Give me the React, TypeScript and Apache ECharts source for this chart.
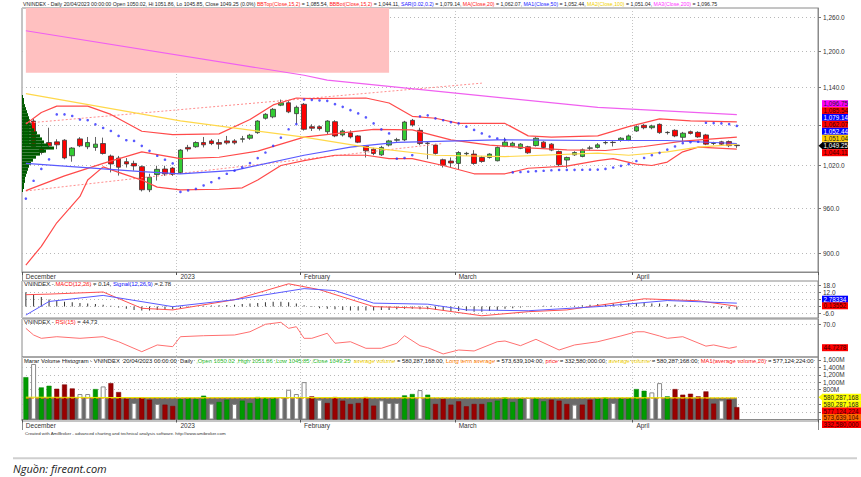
import React, { useEffect, useRef } from "react";
import * as echarts from "echarts";

const FONT = "'Liberation Sans', Arial, Helvetica, sans-serif";

// ---------- dates ----------
const decDays = ["05","06","07","08","09","12","13","14","15","16","19","20","21","22","23","26","27","28","29","30"];
const janDays = ["03","04","05","06","09","10","11","12","13","16","17","18","19","27","30","31"];
const febDays = ["01","02","03","06","07","08","09","10","13","14","15","16","17","20","21","22","23","24","27","28"];
const marDays = ["01","02","03","06","07","08","09","10","13","14","15","16","17","20","21","22","23","24","27","28","29","30","31"];
const aprDays = ["03","04","05","06","07","10","11","12","13","14","17","18","19","20"];
const futureSlots = ["f1","f2","f3","f4","f5","f6","f7","f8","f9","f10"];
const monthTickLabels: Record<string, string> = {
  "2022-12-05": "December", "2023-01-03": "2023", "2023-02-01": "February", "2023-03-01": "March", "2023-04-03": "April",
};

// ---------- price (open, close, low, high) ----------
const ohlc: number[][] = [
  [1050, 1089, 1048, 1092], [1086.7, 1047.6, 1045, 1090], [1045.1, 1039.0, 1036, 1056.4], [1053.9, 1049.0, 1046, 1076.4],
  [1054.9, 1050.5, 1044, 1058.9], [1057.4, 1031.0, 1029, 1059], [1034.2, 1045.7, 1025.5, 1047], [1059.4, 1049.0, 1047, 1062],
  [1047.6, 1053.9, 1044, 1062.3], [1046.6, 1051.5, 1041.5, 1062.3], [1052.4, 1037.6, 1036, 1061.3], [1033.8, 1022.2, 1010, 1036],
  [1030.8, 1017.5, 1005.4, 1034], [1025.5, 1022.2, 1017, 1030.8], [1023.0, 1019.3, 1012.5, 1027], [1018.3, 985.3, 983, 1020],
  [985.3, 1003, 982, 1008], [1007.0, 1014.4, 998.3, 1019.6], [1014.9, 1007.8, 1005, 1019.6], [1016.3, 1007.1, 1005, 1018],
  [1009.6, 1042.6, 1008, 1044], [1046.6, 1044.2, 1040.5, 1050.4], [1047.6, 1053.9, 1046, 1055.8], [1053.9, 1050.5, 1046.6, 1062.3],
  [1056.4, 1052.4, 1050, 1059], [1053.9, 1051.5, 1044, 1059], [1056.4, 1053.4, 1051, 1063.9], [1056.4, 1053.4, 1051, 1059],
  [1058.9, 1059.5, 1054, 1063.9], [1060.4, 1065.0, 1058, 1067], [1068.9, 1086.7, 1067, 1088], [1091.0, 1097.2, 1089, 1099],
  [1093.2, 1105.0, 1091, 1107], [1111.6, 1115.4, 1110, 1120.5], [1115.4, 1101.0, 1099, 1118], [1098.2, 1108.2, 1082.6, 1111],
  [1113.0, 1074.0, 1072, 1115], [1078.0, 1075.6, 1071.4, 1081.7], [1078.0, 1075.0, 1072, 1080], [1070.3, 1086.7, 1066.4, 1088],
  [1085.7, 1063.9, 1062, 1088], [1065.4, 1071.4, 1063, 1074], [1068.4, 1062.4, 1060, 1072.4], [1063.9, 1054.4, 1053, 1065],
  [1048.9, 1041.5, 1031.7, 1050], [1044.0, 1037.6, 1035, 1046], [1035.6, 1046.6, 1034, 1049], [1050.1, 1056.4, 1048, 1058],
  [1057.4, 1058.2, 1055, 1061], [1057.9, 1085.2, 1056, 1087], [1087.8, 1080.6, 1078, 1090], [1072.4, 1052.4, 1050, 1076.4],
  [1053.0, 1052.6, 1029.3, 1055], [1050.1, 1037.7, 1036, 1052], [1028.4, 1020.3, 1017, 1030], [1026.5, 1023.6, 1016.4, 1031.7],
  [1023.0, 1039.0, 1013.5, 1041], [1037.2, 1037.8, 1034, 1040], [1036.7, 1023.0, 1021, 1042.5], [1031.7, 1025.9, 1024, 1034],
  [1031.7, 1036.7, 1030, 1038], [1026.9, 1046.6, 1026, 1048], [1048.3, 1054.4, 1047, 1061.3], [1048.9, 1052.9, 1047, 1055],
  [1045.2, 1051.5, 1044, 1053], [1047.6, 1038.6, 1037, 1049], [1049.4, 1060.4, 1048, 1062], [1054.5, 1046.6, 1045, 1056],
  [1051.5, 1042.6, 1041, 1053], [1040.5, 1021.1, 1019, 1042], [1027.9, 1031.7, 1016.4, 1033], [1035.6, 1039.0, 1034, 1041],
  [1033.2, 1043.0, 1032, 1045], [1045.4, 1045.9, 1042, 1049], [1046.6, 1050.4, 1045, 1053], [1053.6, 1054.0, 1051, 1056],
  [1054.2, 1053.9, 1048, 1056], [1057.4, 1060.4, 1055, 1062], [1057.4, 1063.9, 1056, 1066], [1071.4, 1078.0, 1070, 1080],
  [1080.1, 1076.4, 1074, 1082], [1076.4, 1079.1, 1074, 1081], [1081.6, 1068.9, 1067, 1083], [1068.9, 1069.3, 1066, 1071],
  [1072.4, 1063.9, 1062, 1074], [1061.8, 1068.0, 1055.4, 1070], [1070.3, 1067.7, 1066, 1072], [1069.3, 1062.4, 1061, 1071],
  [1065.4, 1051.5, 1050, 1067], [1052.6, 1053.0, 1050, 1055], [1054.9, 1051.5, 1050, 1056.5], [1055.3, 1049.25, 1047, 1057],
  [1050.02, 1049.25, 1045.85, 1051.86],
];

// ---------- overlays [bar index, value] ----------
const bbTop = [[0,1082],[2,1100],[4,1110],[8,1110],[11,1097],[15,1071],[19,1066],[25,1067],[29,1089],[32,1112],[35,1123],[37,1122],[44,1123],[47,1115],[50,1094],[53,1091],[56,1083],[62,1083],[65,1064],[68,1062],[74,1064],[78,1078],[82,1090],[86,1087],[92,1085.54]];
const bbBot = [[0,885],[2,909],[4,940],[7,976],[8,999],[10,1018],[12,1010],[15,999],[17,989],[20,985],[25,986],[28,988],[30,999],[33,1020],[36,1027],[40,1035],[44,1035],[47,1030],[50,1030],[54,1020],[58,1008],[62,1008],[65,1016],[70,1019],[74,1027],[76,1030],[79,1022],[81,1020],[83,1025],[85,1040],[87,1047],[92,1044.11]];
const ma20 = [[0,984],[5,1005],[10,1023],[15,1040],[20,1030],[25,1032],[30,1041],[36,1062],[45,1074],[50,1073],[55,1058],[60,1050],[65,1046],[70,1043],[75,1042],[80,1048],[85,1056],[92,1062.07]];
const ma50 = [[0,1023],[15,1011],[20,1008],[27,1013],[36,1035],[42,1047],[48,1054],[61,1058],[74,1057],[83,1057],[92,1052.44]];
const ma100 = [[0,1130],[20,1087],[36,1062],[44,1047],[53,1035],[62,1033],[74,1038],[78,1035],[83,1040],[87,1047],[92,1051.04]];
const ma200 = [[0,1236],[36,1160],[39,1152],[74,1108],[92,1096.75]];
const sar = [[0,973],[1,998],[2,1015],[3,1029],[4,1097],[5,1097],[6,1094.6],[7,1089],[8,1088],[9,1081.6],[10,1076],[11,1071.4],[12,1063.9],[13,1057.4],[14,1056.4],[15,1048.9],[16,1041.5],[17,1034.2],[18,1028.4],[19,1023],[20,982.3],[21,984.3],[22,986.6],[23,991.3],[24,995.9],[25,1001.7],[26,1008],[27,1012.5],[28,1017.2],[29,1023.5],[30,1030.8],[31,1039],[32,1048.9],[33,1061.3],[34,1074],[35,1082],[36,1120.5],[37,1120],[38,1119],[39,1118.4],[40,1113.2],[41,1108.9],[42,1103.7],[43,1098.6],[44,1092.3],[45,1083],[46,1073.8],[47,1067.7],[48,1030],[49,1031],[50,1035],[51,1094],[52,1095.6],[53,1090.8],[54,1088],[55,1085],[56,1083],[57,1078],[58,1073],[59,1067.7],[60,1063],[61,1060],[62,1058],[63,1010],[64,1010.5],[65,1011],[66,1011.7],[67,1012.3],[68,1013],[69,1013.5],[70,1013.6],[71,1013.7],[72,1013.8],[73,1013.9],[74,1014],[75,1015],[76,1017],[77,1019.5],[78,1021.8],[79,1026.5],[80,1031],[81,1035],[82,1038.5],[83,1043.3],[84,1048],[85,1053],[86,1054.4],[87,1055],[88,1084],[89,1083.5],[90,1083],[91,1082],[92,1079.14]];
const trendUpper = [[0,1083.4],[59,1147]];
const trendLower = [[0,983.6],[54,1052.5]];
const highlightZone = [[0,1164],[47,1276.7]];
const priceTicks = [900, 960, 1020, 1080, 1140, 1200, 1260];
const priceLabelTicks = [900, 960, 1020, 1140, 1200, 1260];

// volume-at-price profile (relative amounts, top bin first)
const profileBins = [1,2,2,3,4,5,6,7,8,9,10,12,15,18,20,22,26,32,24,18,14,11,9,7,6,5,4,3,3,2,2,1];

// ---------- MACD ----------
const macdLine = [[0,10],[3,10.5],[10,12.3],[15,-1.6],[19,-3],[27,5.7],[34,19.3],[38,14.3],[45,-0.2],[52,-1.6],[59,-8],[65,-4.5],[70,-3],[80,6.5],[87,4.8],[92,0.14]];
const signalLine = [[0,-7.4],[3,4.2],[10,9.4],[19,-0.2],[27,5.7],[36,15.2],[40,13.5],[45,2.8],[52,1.9],[57,-3],[65,-3.7],[74,-0.2],[83,5],[92,2.78]];
const macdHist = [12,10,8,6,5,4,3.5,3,2.5,2,1.5,0.5,-1,-2,-3,-3.5,-3.5,-3,-3,-2.5,-1.5,-0.5,0,0.5,0.8,1,1.2,1.5,2,2.5,3,3.5,4,4,3.5,2.5,1,-0.5,-1.5,-2,-2.5,-3,-3.5,-3.5,-3.5,-3.5,-3,-3,-2.5,-2,-2,-2.5,-2.5,-3,-3.5,-4,-4,-4,-4.5,-4.5,-4,-3,-2,-1.5,-1,-0.5,0,0.5,0.5,0,0,0.5,1,1.5,2,2,2.5,2.5,3,3,3,2.5,2.5,2,1.5,1,0.5,0,-0.5,-1,-1.5,-2,-2.6];
const macdTicks = [18, 12, 6, 0, -6];

// ---------- RSI ----------
const rsi = [[0,65.2],[1,57.8],[2,54.1],[4,55.9],[7,54.1],[10,55.9],[12,50.3],[15,39.2],[17,46.7],[19,44.8],[20,55.9],[23,57],[27,57.8],[29,61.4],[31,69.7],[33,71.9],[34,65.2],[35,67],[36,54.1],[37,54.1],[39,59.7],[40,48.6],[42,50.3],[44,43],[46,43],[48,48.6],[49,57],[51,45.9],[52,43.7],[54,36.7],[56,41.1],[58,40],[61,50.3],[62,51.1],[64,45.9],[66,53],[69,41.1],[71,46.7],[74,50.3],[77,56.7],[79,61.4],[80,61.4],[82,56.7],[83,54.1],[85,55.9],[88,45.4],[89,46.7],[91,43],[92,44.73]];

// ---------- volume (millions) ----------
const volume = [1138,1493,862,907,827,942,835,685,685,818,889,978,738,560,444,596,533,418,400,364,551,578,551,640,427,471,533,418,507,444,604,596,596,600,800,685,1005,622,533,444,604,507,418,444,604,373,515,444,444,648,685,791,667,418,551,400,489,355,418,418,462,507,596,471,560,578,578,489,533,507,418,400,400,533,560,596,444,578,578,818,773,729,978,622,818,667,693,622,755,427,515,533,332.58];
const volumeKind = [
  "g","w","g","g","r","r","r","w","w","g",
  "w","r","r","r","w","r","r","w","r","r",
  "g","g","g","g","w","g","g","w","g","g",
  "g","g","g","w","w","w","w","r","w","r",
  "r","r","r","r","r","r","w","w","w","g",
  "g","w","g","r","r","r","r","r","r","r",
  "g","g","g","g","g","w","g","g","r","r",
  "r","w","r","r","g","g","w","g","g","g",
  "g","w","w","g","r","r","r","r","r","r",
  "w","r","r",
];
const avgVolume = [[0,600],[20,585],[40,590],[60,580],[80,585],[92,580.3]];
const longTermAvg = [[0,573.6],[92,573.6]];
const volTicks = [0, 200, 400, 600, 800, 1000, 1200, 1400, 1600];
const volLabelTicks = [800, 1000, 1200, 1400, 1600];

const ln = Math.log;

function rich(parts: [string, string][]) {
  return parts.map(([k, t]) => `{${k}|${t}}`).join("");
}

function buildOption() {
  const categories = [
    ...decDays.map((d) => `2022-12-${d}`), ...janDays.map((d) => `2023-01-${d}`), ...febDays.map((d) => `2023-02-${d}`),
    ...marDays.map((d) => `2023-03-${d}`), ...aprDays.map((d) => `2023-04-${d}`), ...futureSlots,
  ];
  const isMonthStart = (_i: number, v: string) => monthTickLabels[v] !== undefined;
  const L = 22, GW = 796;
  const mainMin = ln(876.3), mainMax = ln(1276.7);
  const txt = (size: number, color = "#222") => ({ fontFamily: FONT, fontSize: size, color });

  const xAxisFor = (gi: number, labels: boolean) => ({
    type: "category", gridIndex: gi, data: categories, boundaryGap: true,
    axisLine: { show: labels, lineStyle: { color: "#8a8a8a", width: 1 } },
    axisTick: { show: labels, interval: isMonthStart, length: 3, lineStyle: { color: "#555" } },
    axisLabel: { show: labels, interval: isMonthStart, formatter: (v: string) => monthTickLabels[v] ?? "", align: "left", margin: 1, ...txt(6.5, "#333") },
    splitLine: { show: true, interval: isMonthStart, lineStyle: { color: "#c4c4c4", type: [1, 2], width: 1 } },
  });
  const yAxisBase = (gi: number) => ({
    type: "value", gridIndex: gi, position: "right",
    axisLine: { show: true, lineStyle: { color: "#8a8a8a" } },
    axisTick: { show: true, length: 3, lineStyle: { color: "#777" } },
    splitLine: { show: true, lineStyle: { color: "#b8b8b8", type: [1, 3], width: 1 } },
  });
  const lnPairs = (arr: number[][]) => arr.map(([i, v]) => [i, ln(v)]);
  const lineSeries = (name: string, data: number[][], color: string, width = 1, z = 4, extra: any = {}) => ({
    type: "line", name, xAxisIndex: 0, yAxisIndex: 0, data: lnPairs(data), symbol: "none", z,
    lineStyle: { color, width }, silent: true, ...extra,
  });

  const volStyle: Record<string, any> = {
    g: { color: "#009a00", borderColor: "#008000", borderWidth: 0.5 },
    r: { color: "#990000", borderColor: "#7a0000", borderWidth: 0.5 },
    w: { color: "#ffffff", borderColor: "#8a8a8a", borderWidth: 1 },
  };

  return {
    animation: false,
    backgroundColor: "#ffffff",
    grid: [
      { left: L, top: 8, width: GW, height: 264, show: true, borderColor: "#8a8a8a", borderWidth: 1, backgroundColor: "transparent" },
      { left: L, top: 281, width: GW, height: 37, show: true, borderColor: "#8a8a8a", borderWidth: 1 },
      { left: L, top: 319, width: GW, height: 38, show: true, borderColor: "#8a8a8a", borderWidth: 1 },
      { left: L, top: 357, width: GW, height: 64, show: true, borderColor: "#8a8a8a", borderWidth: 1 },
      { left: L, top: 95, width: 60, height: 97, show: false },
    ],
    xAxis: [
      xAxisFor(0, true), xAxisFor(1, false), xAxisFor(2, false), xAxisFor(3, true),
      { type: "value", gridIndex: 4, min: 0, max: 60, show: false },
    ],
    yAxis: [
      {
        ...yAxisBase(0), min: mainMin, max: mainMax,
        axisTick: { show: true, length: 3, customValues: priceTicks.map(ln), lineStyle: { color: "#777" } },
        axisLabel: { customValues: priceLabelTicks.map(ln), formatter: (v: number) => Math.round(Math.exp(v)).toLocaleString("en-US") + ".0", margin: 5, ...txt(6.5, "#333") },
      },
      {
        ...yAxisBase(1), min: -9.9, max: 21.7,
        axisTick: { show: true, length: 3, customValues: macdTicks, lineStyle: { color: "#777" } },
        axisLabel: { customValues: [18, 12, -6], formatter: (v: number) => v.toFixed(1), margin: 5, ...txt(6.5, "#333") },
      },
      {
        ...yAxisBase(2), min: 33.3, max: 75.6,
        axisTick: { show: true, length: 3, customValues: [70], lineStyle: { color: "#777" } },
        axisLabel: { customValues: [70], formatter: (v: number) => v.toFixed(1), margin: 5, ...txt(6.5, "#333") },
      },
      {
        ...yAxisBase(3), min: -40, max: 1680,
        axisTick: { show: true, length: 3, customValues: volTicks, lineStyle: { color: "#777" } },
        axisLabel: { customValues: volLabelTicks, formatter: (v: number) => v.toLocaleString("en-US") + "M", margin: 5, ...txt(6.5, "#333") },
      },
      { type: "category", gridIndex: 4, inverse: true, show: false, data: profileBins.map((_, k) => "b" + k) },
    ],
    series: [
      {
        type: "line", name: "zone", xAxisIndex: 0, yAxisIndex: 0, data: [], z: 0, silent: true,
        markArea: {
          silent: true, itemStyle: { color: "#ffc0c0", opacity: 1 },
          data: [[{ xAxis: highlightZone[0][0], yAxis: ln(highlightZone[0][1]) }, { xAxis: highlightZone[1][0], yAxis: ln(highlightZone[1][1]) }]],
        },
      },
      {
        type: "candlestick", name: "VNINDEX", xAxisIndex: 0, yAxisIndex: 0, z: 2, barWidth: 5,
        data: ohlc.map((r) => r.map(ln)),
        itemStyle: { color: "#33cc33", color0: "#ff0000", borderColor: "#3a3a3a", borderColor0: "#3a3a3a", borderWidth: 0.8 },
      },
      {
        type: "bar", name: "profile", xAxisIndex: 4, yAxisIndex: 4, data: profileBins, barCategoryGap: "0%", z: 3, silent: true,
        itemStyle: { color: "#005a00" },
      },
      lineSeries("BBTop", bbTop, "#ff4a4a", 1.2),
      lineSeries("MA20", ma20, "#ff4a4a", 1.2),
      lineSeries("BBBot", bbBot, "#ff4a4a", 1.2),
      lineSeries("MA50", ma50, "#5a5aff", 1.2),
      lineSeries("MA100", ma100, "#ffd84a", 1.2),
      lineSeries("MA200", ma200, "#f060f0", 1.2),
      lineSeries("trendUpper", trendUpper, "#ff8c8c", 1, 3, { lineStyle: { color: "#ff8c8c", width: 1, type: [2, 2] } }),
      lineSeries("trendLower", trendLower, "#ff8c8c", 1, 3, { lineStyle: { color: "#ff8c8c", width: 1, type: [2, 2] } }),
      {
        type: "scatter", name: "SAR", xAxisIndex: 0, yAxisIndex: 0, data: lnPairs(sar), symbolSize: 2.6, z: 5,
        itemStyle: { color: "#3030ff" }, silent: true,
      },
      // MACD pane
      {
        type: "bar", name: "hist", xAxisIndex: 1, yAxisIndex: 1, data: macdHist, barWidth: 1, z: 2,
        itemStyle: { color: "#333" }, silent: true,
      },
      { type: "line", name: "MACD", xAxisIndex: 1, yAxisIndex: 1, data: macdLine, symbol: "none", lineStyle: { color: "#ff5050", width: 1 }, z: 3 },
      { type: "line", name: "Signal", xAxisIndex: 1, yAxisIndex: 1, data: signalLine, symbol: "none", lineStyle: { color: "#5a5aff", width: 1 }, z: 3 },
      // RSI pane
      { type: "line", name: "RSI", xAxisIndex: 2, yAxisIndex: 2, data: rsi, symbol: "none", lineStyle: { color: "#ff7070", width: 1 }, z: 3 },
      // Volume pane
      {
        type: "line", name: "avgArea", xAxisIndex: 3, yAxisIndex: 3, data: avgVolume, symbol: "none", z: 1,
        lineStyle: { width: 0 }, areaStyle: { color: "#6a6a6a", opacity: 1 }, silent: true,
      },
      {
        type: "bar", name: "Volume", xAxisIndex: 3, yAxisIndex: 3, z: 2, barWidth: 5,
        data: volume.map((v, i) => ({ value: v, itemStyle: volStyle[volumeKind[i]] })),
      },
      { type: "line", name: "LTavg", xAxisIndex: 3, yAxisIndex: 3, data: longTermAvg, symbol: "none", z: 3, lineStyle: { color: "#ff8a00", width: 1, type: [3, 2] } },
      { type: "line", name: "avgVol", xAxisIndex: 3, yAxisIndex: 3, data: avgVolume, symbol: "none", z: 3, lineStyle: { color: "#e8e800", width: 1 } },
    ],
    graphic: buildGraphics(),
  };
}

function buildGraphics() {
  const richStyles = (size: number) => ({
    k: { fill: "#1e1e1e", fontSize: size, fontFamily: FONT },
    r: { fill: "#ff2020", fontSize: size, fontFamily: FONT },
    b: { fill: "#2020ff", fontSize: size, fontFamily: FONT },
    y: { fill: "#f0d000", fontSize: size, fontFamily: FONT },
    m: { fill: "#ff30ff", fontSize: size, fontFamily: FONT },
    g: { fill: "#30c030", fontSize: size, fontFamily: FONT },
    o: { fill: "#ff8000", fontSize: size, fontFamily: FONT },
  });
  const textRow = (x: number, y: number, parts: [string, string][], size: number) => ({
    type: "text", x, y, z: 50, silent: true,
    style: { text: rich(parts), rich: richStyles(size), verticalAlign: "middle", align: "left" },
  });
  const box = (y: number, label: string, bg: string, fg: string, arrow = false, w = 26) => {
    const els: any[] = [
      { type: "rect", shape: { x: 822, y: y - 3.5, width: w, height: 7 }, style: { fill: bg }, z: 60, silent: true },
      { type: "text", x: 823.5, y, z: 61, silent: true, style: { text: label, fill: fg, fontSize: 6.3, fontFamily: FONT, verticalAlign: "middle", align: "left" } },
    ];
    if (arrow) els.push({ type: "polygon", shape: { points: [[818.5, y], [822.5, y - 3.5], [822.5, y + 3.5]] }, style: { fill: bg }, z: 60, silent: true });
    return els;
  };
  return [
    textRow(23, 3.6, [
      ["k", "VNINDEX - Daily 20/04/2023 00:00:00 Open 1050.02, Hi 1051.86, Lo 1045.85, Close 1049.25 (0.0%) "],
      ["r", "BBTop(Close,15,2)"], ["k", " = 1,085.54, "], ["r", "BBBot(Close,15,2)"], ["k", " = 1,044.11, "],
      ["b", "SAR(0.02,0.2)"], ["k", " = 1,079.14, "], ["r", "MA(Close,20)"], ["k", " = 1,062.07, "],
      ["b", "MA1(Close,50)"], ["k", " = 1,052.44, "], ["y", "MA2(Close,100)"], ["k", " = 1,051.04, "],
      ["m", "MA3(Close,200)"], ["k", " = 1,096.75"],
    ], 5.2),
    textRow(24, 284.3, [["k", "VNINDEX - "], ["r", "MACD(12,26)"], ["k", " = 0.14, "], ["b", "Signal(12,26,9)"], ["k", " = 2.78"]], 5.9),
    textRow(24, 321.8, [["k", "VNINDEX - "], ["r", "RSI(15)"], ["k", " = 44.73"]], 5.9),
    textRow(24, 360.6, [
      ["k", "Marar Volume Histogram - VNINDEX  20/04/2023 00:00:00  Daily  "],
      ["g", ",Open 1050.02 ,High 1051.86 ,Low 1045.85 ,Close 1049.25  "],
      ["y", "average volume"], ["k", " = 580,287,168.00, "], ["o", "Long term average"], ["k", " = 573,639,104.00, "],
      ["r", "price"], ["k", " = 332,580,000.00, "], ["y", "average volume"], ["k", " = 580,287,168.00, "],
      ["r", "MA1(average volume,20)"], ["k", " = 577,124,224.00"],
    ], 5.85),
    // value boxes - price pane
    ...box(103.7, "1,096.75", "#ff00ff", "#222"),
    ...box(110.7, "1,085.54", "#ff0000", "#400000"),
    ...box(117.4, "1,079.14", "#0000ff", "#ffffff"),
    ...box(124.3, "1,062.07", "#ff0000", "#400000"),
    ...box(131.3, "1,052.44", "#0000ff", "#ffffff"),
    ...box(138.3, "1,051.04", "#ffcc00", "#222"),
    ...box(145.7, "1,049.25", "#000000", "#ffffff", true),
    ...box(152.7, "1,044.11", "#ff0000", "#400000"),
    // MACD / RSI
    ...box(299.2, "2.78334", "#0000ff", "#ffffff"),
    ...box(305.8, "0.13552", "#ff0000", "#400000"),
    ...box(347.7, "44.7278", "#ff0000", "#400000"),
    // volume
    ...box(397.3, "580,287,168", "#ffff00", "#222", true, 40),
    ...box(404.3, "580,287,168", "#ffff00", "#222", false, 40),
    ...box(411.0, "577,124,224", "#ff0000", "#400000", false, 40),
    ...box(417.4, "573,639,104", "#ff6a00", "#400000", false, 40),
    ...box(424.6, "332,580,000", "#ff0000", "#400000", false, 40),
    // frame pieces for date strips
    { type: "line", shape: { x1: 22.5, y1: 272, x2: 22.5, y2: 281 }, style: { stroke: "#8a8a8a", lineWidth: 1 }, silent: true },
    { type: "line", shape: { x1: 818.5, y1: 272, x2: 818.5, y2: 281 }, style: { stroke: "#8a8a8a", lineWidth: 1 }, silent: true },
    { type: "line", shape: { x1: 22.5, y1: 421, x2: 22.5, y2: 430 }, style: { stroke: "#8a8a8a", lineWidth: 1 }, silent: true },
    { type: "line", shape: { x1: 818.5, y1: 421, x2: 818.5, y2: 430 }, style: { stroke: "#8a8a8a", lineWidth: 1 }, silent: true },
    {
      type: "text", x: 25, y: 433.6, silent: true,
      style: { text: "Created with AmiBroker - advanced charting and technical analysis software. http://www.amibroker.com", fill: "#333", fontSize: 4.4, fontFamily: FONT, verticalAlign: "middle" },
    },
    { type: "line", shape: { x1: 13, y1: 458.3, x2: 857, y2: 458.3 }, style: { stroke: "#cfcfcf", lineWidth: 2 }, silent: true },
    {
      type: "text", x: 13, y: 468.5, silent: true,
      style: { text: "Nguồn: fireant.com", fill: "#1a1a1a", fontSize: 11, fontStyle: "italic", fontFamily: "'Open Sans', 'Noto Sans', sans-serif", verticalAlign: "middle" },
    },
  ];
}

export default function App() {
  const ref = useRef<HTMLDivElement>(null);
  useEffect(() => {
    if (!ref.current) return;
    const chart = echarts.init(ref.current, undefined, { renderer: "svg", width: 861, height: 477 });
    chart.setOption(buildOption() as any);
    return () => chart.dispose();
  }, []);
  return <div ref={ref} style={{ position: "fixed", left: 0, top: 0, width: 861, height: 477, background: "#fff" }} />;
}
